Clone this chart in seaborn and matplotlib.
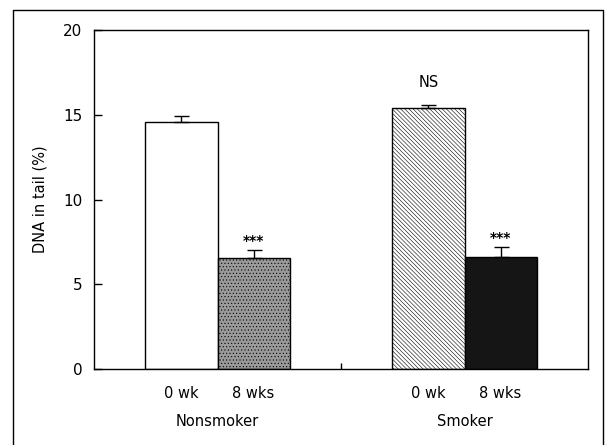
import matplotlib
matplotlib.use("Agg")
import matplotlib.pyplot as plt
import matplotlib.transforms as mtransforms
from matplotlib.patches import Rectangle
import seaborn as sns
import pandas as pd

groups = ["Nonsmoker", "Nonsmoker", "Smoker", "Smoker"]
times = ["0 wk", "8 wks", "0 wk", "8 wks"]
values = [14.55, 6.53, 15.38, 6.63]
errors = [0.40, 0.49, 0.22, 0.55]
annotations = ["", "***", "NS", "***"]
yticks = [0, 5, 10, 15, 20]

df = pd.DataFrame({"group": groups, "time": times, "value": values})

sns.set_theme(style="white")
plt.rcParams["font.family"] = ["DejaVu Sans"]
plt.rcParams["hatch.linewidth"] = 0.4
plt.rcParams["text.color"] = "black"
plt.rcParams["axes.labelcolor"] = "black"
plt.rcParams["xtick.color"] = "black"
plt.rcParams["ytick.color"] = "black"

fig = plt.figure(figsize=(6.15, 4.45), dpi=100)
ax = fig.add_axes([94 / 615, 1 - 369 / 445, (588 - 94) / 615, (369 - 30) / 445])

sns.barplot(data=df, x="group", y="value", hue="time", order=["Nonsmoker", "Smoker"],
            hue_order=["0 wk", "8 wks"], width=0.583, errorbar=None, ax=ax,
            legend=False)

styles = {
    ("Nonsmoker", "0 wk"): dict(facecolor="white", hatch=None),
    ("Nonsmoker", "8 wks"): dict(facecolor="#9a9a9a", hatch="....."),
    ("Smoker", "0 wk"): dict(facecolor="white", hatch="\\" * 8),
    ("Smoker", "8 wks"): dict(facecolor="#151515", hatch=None),
}
bars = [p for p in ax.patches if isinstance(p, Rectangle) and p.get_width() > 0]
order_keys = [("Nonsmoker", "0 wk"), ("Smoker", "0 wk"), ("Nonsmoker", "8 wks"), ("Smoker", "8 wks")]
centers = {}
for key, bar in zip(order_keys, bars):
    st = styles[key]
    bar.set_facecolor(st["facecolor"])
    bar.set_edgecolor("black")
    bar.set_linewidth(1.0)
    if st["hatch"]:
        bar.set_hatch(st["hatch"])
    centers[key] = bar.get_x() + bar.get_width() / 2

xs = [centers[(g, t)] for g, t in zip(groups, times)]
ax.errorbar(xs, values, yerr=[[0] * 4, errors], fmt="none", ecolor="black",
            elinewidth=1.0, capsize=5.4, capthick=1.0, zorder=1)

for x, v, e, a in zip(xs, values, errors, annotations):
    if a:
        off = 0.55 if a == "***" else 0.85
        ax.text(x, v + e + off, a, ha="center", va="bottom" if a == "NS" else "center",
                fontsize=10.5 if a == "NS" else 10, fontweight="bold" if a == "***" else "normal")

ax.set_ylim(0, 20)
ax.set_xlim(-0.5, 1.5)
ax.set_yticks(yticks)
ax.set_yticklabels([str(t) for t in yticks])
ax.tick_params(axis="y", direction="in", length=6, width=1, pad=8.5, labelsize=11, left=True)
ax.set_xticks(xs)
ax.set_xticklabels(times)
ax.tick_params(axis="x", length=0, pad=12, labelsize=10.5)
ax.set_xticks([0.5], minor=True)
ax.tick_params(axis="x", which="minor", direction="in", length=4, width=1, bottom=True)
ax.set_xlabel("")
ax.set_ylabel("DNA in tail (%)", fontsize=10.5, labelpad=11)

for s in ax.spines.values():
    s.set_visible(True)
    s.set_color("black")
    s.set_linewidth(1.0)

trans = mtransforms.blended_transform_factory(ax.transData, fig.transFigure)
for gx, g in [(0, "Nonsmoker"), (1, "Smoker")]:
    ax.text(gx, 1 - 422 / 445, g, transform=trans, ha="center", va="center", fontsize=10.5)

fx0, fx1, fy1 = 12.5 / 615, 602.5 / 615, 1 - 9.5 / 445
fig.add_artist(plt.Line2D([fx0, fx0, fx1, fx1], [0, fy1, fy1, 0], transform=fig.transFigure,
                          color="black", linewidth=1.0))

fig.savefig("out.png", dpi=100)
